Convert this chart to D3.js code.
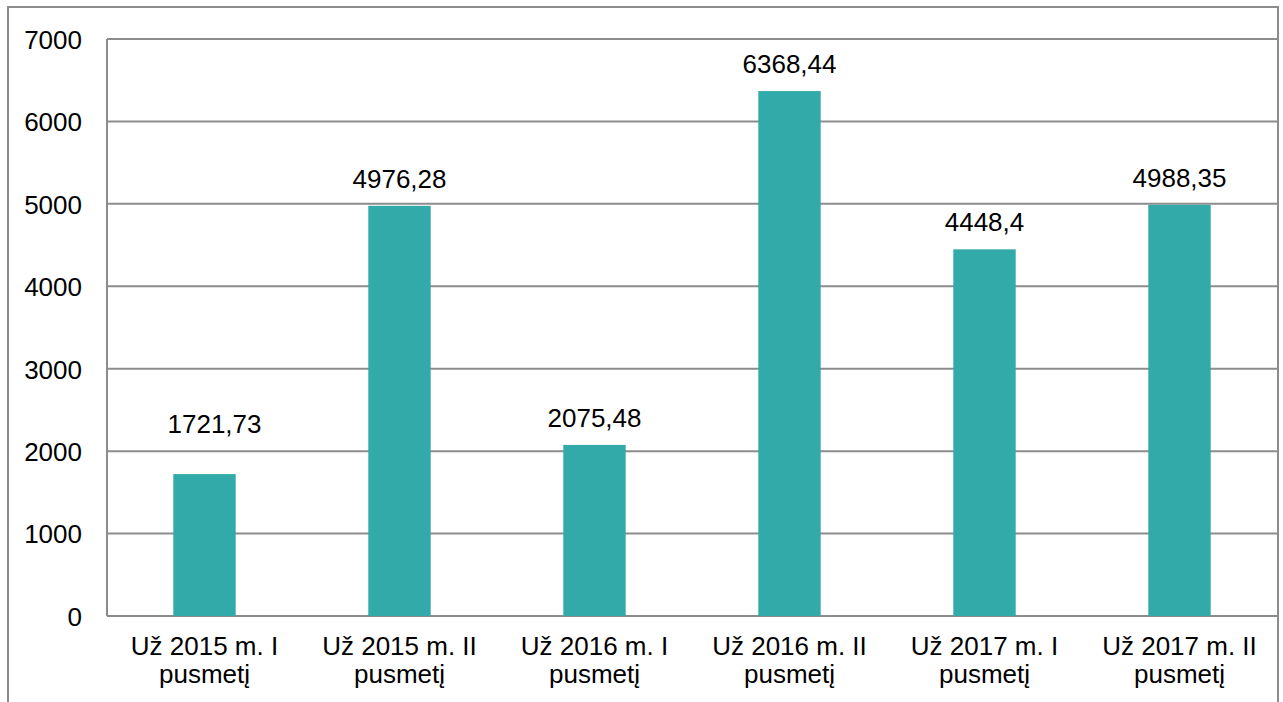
<!DOCTYPE html>
<html>
<head>
<meta charset="utf-8">
<script src="https://cdn.jsdelivr.net/npm/d3@7"></script>
<style>
    body { margin: 0; background: #fff; }
    text { font-family: "Liberation Sans", Arial, sans-serif; fill: #000; }
</style>
</head>
<body>
<svg id="chart" width="1283" height="702"></svg>
<script>
const categories = [
    'Už 2015 m. I pusmetį',
    'Už 2015 m. II pusmetį',
    'Už 2016 m. I pusmetį',
    'Už 2016 m. II pusmetį',
    'Už 2017 m. I pusmetį',
    'Už 2017 m. II pusmetį'
];
const values = [1721.73, 4976.28, 2075.48, 6368.44, 4448.4, 4988.35];
const yTicks = [0, 1000, 2000, 3000, 4000, 5000, 6000, 7000];

// the first data label was dragged by hand in the original
const labelNudge = [[10, -23], [0, 0], [0, 0], [0, 0], [0, 0], [0, 0]];

const plotLeft = 107,
    plotRight = 1277,
    plotTop = 39,
    plotBottom = 616,
    fontSize = 26,
    grey = '#8c8c8c',
    barColor = '#33aaaa';

const svg = d3.select('#chart');

svg.append('rect')
    .attr('x', 8)
    .attr('y', 7)
    .attr('width', 1270)
    .attr('height', 740)
    .attr('fill', 'none')
    .attr('stroke', grey)
    .attr('stroke-width', 2);

const x = d3.scaleBand()
    .domain(categories)
    .range([plotLeft, plotRight])
    .paddingInner(0.68)
    .paddingOuter(0.34);

const y = d3.scaleLinear()
    .domain([0, 7000])
    .range([plotBottom, plotTop]);

// gridlines
svg.append('g')
    .selectAll('line')
    .data(yTicks)
    .join('line')
    .attr('x1', plotLeft)
    .attr('x2', plotRight)
    .attr('y1', d => y(d))
    .attr('y2', d => y(d))
    .attr('stroke', grey)
    .attr('stroke-width', 2);

// left axis line
svg.append('line')
    .attr('x1', plotLeft)
    .attr('x2', plotLeft)
    .attr('y1', plotTop)
    .attr('y2', plotBottom)
    .attr('stroke', grey)
    .attr('stroke-width', 2);

const yAxis = svg.append('g')
    .attr('transform', `translate(${plotLeft},0)`)
    .call(d3.axisLeft(y).tickValues(yTicks).tickFormat(d3.format('d')).tickSize(0).tickPadding(25));
yAxis.select('.domain').remove();
yAxis.selectAll('text')
    .style('font-size', fontSize + 'px')
    .style('font-family', '"Liberation Sans", Arial, sans-serif')
    .attr('dy', '0.36em')
    .attr('fill', '#000');

svg.append('g')
    .selectAll('rect')
    .data(values)
    .join('rect')
    .attr('x', (d, i) => x(categories[i]))
    .attr('y', d => y(d))
    .attr('width', x.bandwidth())
    .attr('height', d => y(0) - y(d))
    .attr('fill', barColor);

svg.append('g')
    .selectAll('text')
    .data(values)
    .join('text')
    .attr('x', (d, i) => x(categories[i]) + x.bandwidth() / 2 + labelNudge[i][0])
    .attr('y', (d, i) => y(d) - 18 + labelNudge[i][1])
    .attr('text-anchor', 'middle')
    .style('font-size', fontSize + 'px')
    .text(d => String(d).replace('.', ','));

// two-line category labels
const catLabels = svg.append('g')
    .selectAll('text')
    .data(categories)
    .join('text')
    .attr('text-anchor', 'middle')
    .style('font-size', fontSize + 'px');

catLabels.each(function (d) {
    const cut = d.lastIndexOf(' '),
        cx = x(d) + x.bandwidth() / 2,
        t = d3.select(this);
    t.append('tspan').attr('x', cx).attr('y', 655).text(d.slice(0, cut));
    t.append('tspan').attr('x', cx).attr('y', 683).text(d.slice(cut + 1));
});
</script>
</body>
</html>
